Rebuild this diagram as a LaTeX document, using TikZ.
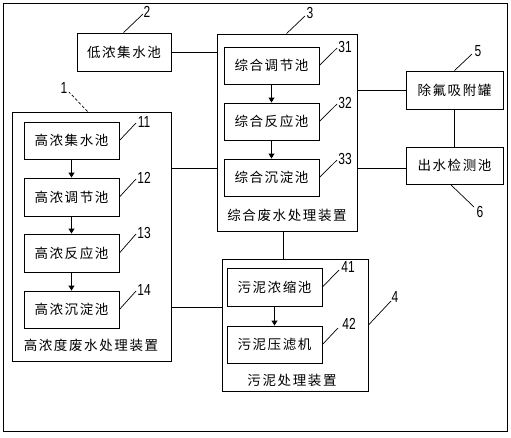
\documentclass[tikz,border=0pt]{standalone}
\usepackage{fontspec}
\setmainfont{Liberation Sans}
\newfontfamily\cjk[LetterSpace=12]{Noto Sans CJK SC}
\usetikzlibrary{arrows.meta}
\begin{document}
\begin{tikzpicture}[x=1pt,y=-1pt,
  ln/.style={line width=0.9pt},
  box/.style={draw,line width=0.9pt,inner sep=0pt,font=\cjk\fontsize{13.5}{14}\selectfont},
  devtitle/.style={inner sep=0pt,font=\cjk\fontsize{13.5}{14}\selectfont},
  num/.style={inner sep=0pt,font=\fontsize{16}{16}\selectfont},
  arr/.style={line width=0.9pt,-{Triangle[length=5pt,width=6pt]}},
  lead/.style={line width=0.7pt}]
\useasboundingbox (0,0) rectangle (511,437);
\node[draw,line width=0.9pt,minimum width=504pt,minimum height=428pt,inner sep=0pt] (frame) at (255,217) {};
% boxes
\node[box,minimum width=94pt,minimum height=38pt] (b2) at (124,52) {低浓集水池};
\node[box,minimum width=140pt,minimum height=197pt] (b3) at (287,132.5) {};
\node[devtitle] (t3) at (287,215) {综合废水处理装置};
\node[box,minimum width=95pt,minimum height=37pt] (b31) at (271.5,65.5) {综合调节池};
\node[box,minimum width=95pt,minimum height=37pt] (b32) at (271.5,121.5) {综合反应池};
\node[box,minimum width=95pt,minimum height=37pt] (b33) at (271.5,177.5) {综合沉淀池};
\node[box,minimum width=97pt,minimum height=38pt] (b5) at (454.5,90) {除氟吸附罐};
\node[box,minimum width=97pt,minimum height=37pt] (b6) at (454.5,165.5) {出水检测池};
\node[box,minimum width=159pt,minimum height=249pt] (b1) at (91.5,236.5) {};
\node[devtitle] (t1) at (91,345) {高浓度废水处理装置};
\node[box,minimum width=95pt,minimum height=37pt] (b11) at (71.5,140.5) {高浓集水池};
\node[box,minimum width=95pt,minimum height=38pt] (b12) at (71.5,197) {高浓调节池};
\node[box,minimum width=95pt,minimum height=38pt] (b13) at (71.5,253) {高浓反应池};
\node[box,minimum width=95pt,minimum height=37pt] (b14) at (71.5,309.5) {高浓沉淀池};
\node[box,minimum width=146pt,minimum height=132pt] (b4) at (295,325) {};
\node[devtitle] (t4) at (292,380) {污泥处理装置};
\node[box,minimum width=95pt,minimum height=38pt] (b41) at (274.5,287) {污泥浓缩池};
\node[box,minimum width=95pt,minimum height=37pt] (b42) at (274.5,344.5) {污泥压滤机};
% helper coordinates
\coordinate (y168) at (0,168);
\coordinate (y307) at (0,307);
\coordinate (x283) at (283,0);
% connectors
\draw[ln] (b2.east) -- (b3.west |- b2.east);
\draw[ln] (b1.east |- y168) -- (b3.west |- y168);
\draw[ln] (b3.east |- b5.west) -- (b5.west);
\draw[ln] (b3.east |- y168) -- (b6.west |- y168);
\draw[ln] (b5.south) -- (b6.north);
\draw[ln] (b3.south -| x283) -- (b4.north -| x283);
\draw[ln] (b1.east |- y307) -- (b4.west |- y307);
\draw[arr] (b11) -- (b12);
\draw[arr] (b12) -- (b13);
\draw[arr] (b13) -- (b14);
\draw[arr] (b31) -- (b32);
\draw[arr] (b32) -- (b33);
\draw[arr] (b41) -- (b42);
% labels
\node[num] (l2) at (147,12) {\scalebox{0.75}[1]{2}};
\draw[lead] ([xshift=47pt]b2.north west) -- (143,14);
\node[num] (l3) at (310,13) {\scalebox{0.75}[1]{3}};
\draw[lead] ([xshift=70pt]b3.north west) -- (305,16);
\node[num] (l31) at (345,47) {\scalebox{0.75}[1]{31}};
\draw[lead] (b31.east) -- (337,48);
\node[num] (l32) at (345,103) {\scalebox{0.75}[1]{32}};
\draw[lead] (b32.east) -- (337,104);
\node[num] (l33) at (345,159) {\scalebox{0.75}[1]{33}};
\draw[lead] (b33.east) -- (337,160);
\node[num] (l5) at (478,51) {\scalebox{0.75}[1]{5}};
\draw[lead] (b5.north) -- (472,54);
\node[num] (l6) at (480,212) {\scalebox{0.75}[1]{6}};
\draw[lead] ([xshift=-4pt]b6.south) -- (474,207);
\node[num] (l11) at (144,122) {\scalebox{0.75}[1]{11}};
\draw[lead] (b11.east) -- (136,123);
\node[num] (l12) at (144,178) {\scalebox{0.75}[1]{12}};
\draw[lead] (b12.east) -- (136,179);
\node[num] (l13) at (144,233) {\scalebox{0.75}[1]{13}};
\draw[lead] (b13.east) -- (136,234);
\node[num] (l14) at (144,290) {\scalebox{0.75}[1]{14}};
\draw[lead] (b14.east) -- (136,291);
\node[num] (l41) at (348,267) {\scalebox{0.75}[1]{41}};
\draw[lead] (b41.east) -- (339,270);
\node[num] (l42) at (349,324) {\scalebox{0.75}[1]{42}};
\draw[lead] (b42.east) -- (338,328);
\node[num] (l4) at (395,297) {\scalebox{0.75}[1]{4}};
\draw[lead] (b4.east) -- (391,301);
\node[num] (l1) at (64,88) {\scalebox{0.75}[1]{1}};
\draw[lead,densely dashed] ([xshift=76pt]b1.north west) -- (69,92);
\end{tikzpicture}
\end{document}
